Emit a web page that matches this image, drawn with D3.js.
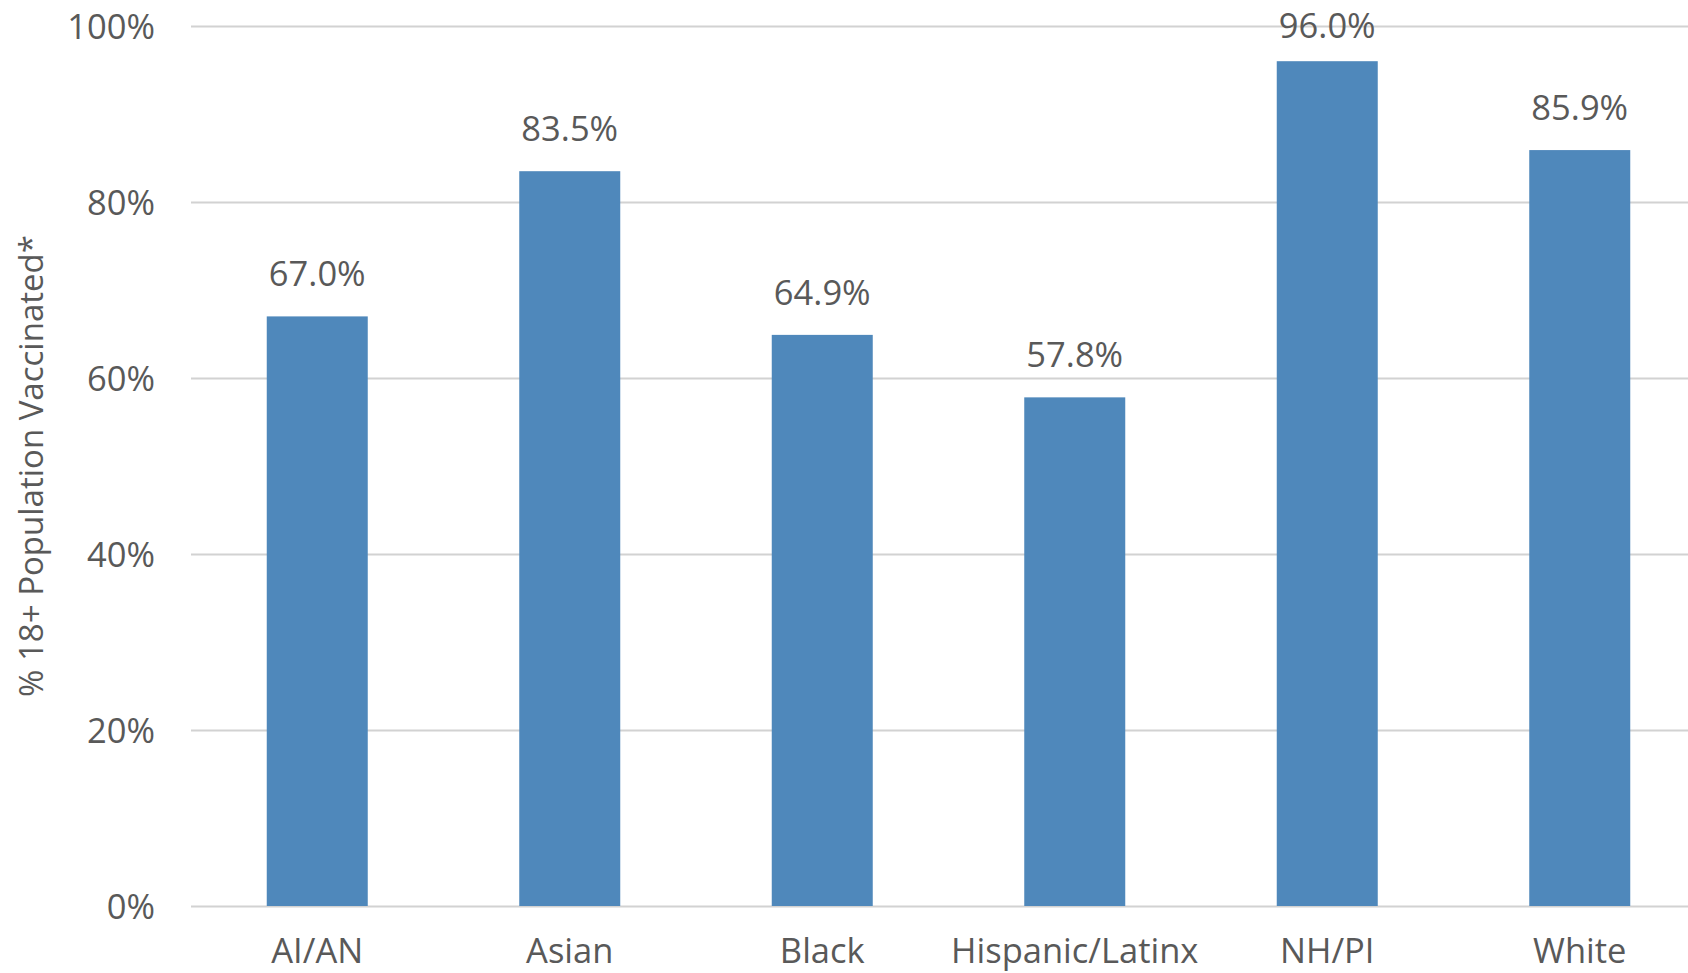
<!DOCTYPE html>
<meta charset="utf-8">
<style>
  body { margin: 0; background: #fff; }
  svg text {
    font-family: "Open Sans", sans-serif;
    font-size: 34.5px;
    fill: #595959;
  }
  .grid line {
    stroke: #d2d2d2;
    stroke-width: 2px;
  }
  .bar {
    fill: #4f88bb;
  }
</style>
<svg width="1688" height="973"></svg>
<script src="https://cdn.jsdelivr.net/npm/d3@7"></script>
<script>
  const categories = ["AI/AN", "Asian", "Black", "Hispanic/Latinx", "NH/PI", "White"];
  const values = [67.0, 83.5, 64.9, 57.8, 96.0, 85.9];
  const yTicks = [0, 20, 40, 60, 80, 100];
  const yTitle = "% 18+ Population Vaccinated*";

  // plot area; the right side runs past the edge of the picture
  const plotLeft = 191, plotRight = 1706, plotTop = 26, plotBottom = 906;

  const svg = d3.select("svg");

  const x = d3.scaleBand()
    .domain(categories)
    .range([plotLeft, plotRight])
    .paddingInner(0.6)
    .paddingOuter(0.3);

  const y = d3.scaleLinear()
    .domain([0, 100])
    .range([plotBottom, plotTop]);

  // gridlines + tick labels
  const yAxis = svg.append("g")
    .attr("class", "grid")
    .attr("transform", "translate(" + plotLeft + ",0)")
    .call(d3.axisLeft(y)
      .tickValues(yTicks)
      .tickSize(-(plotRight - plotLeft))
      .tickPadding(36)
      .tickFormat(d => d + "%"));
  yAxis.select(".domain").remove();
  yAxis.selectAll("text")
    .attr("fill", null)
    .attr("dy", "0.36em");

  // bars
  svg.selectAll(".bar")
    .data(values)
    .enter()
    .append("rect")
    .attr("class", "bar")
    .attr("x", (d, i) => x(categories[i]))
    .attr("width", x.bandwidth())
    .attr("y", d => y(d))
    .attr("height", d => y(0) - y(d));

  // value labels (kept inside the top of the chart like Excel does)
  svg.selectAll(".value")
    .data(values)
    .enter()
    .append("text")
    .attr("class", "value")
    .attr("text-anchor", "middle")
    .attr("x", (d, i) => x(categories[i]) + x.bandwidth() / 2)
    .attr("y", d => Math.max(y(d) - 30, 38))
    .text(d => d.toFixed(1) + "%");

  // category labels
  const xAxis = svg.append("g")
    .attr("transform", "translate(0," + plotBottom + ")")
    .call(d3.axisBottom(x).tickSize(0));
  xAxis.select(".domain").remove();
  xAxis.selectAll("text")
    .attr("fill", null)
    .attr("y", 57)
    .attr("dy", 0);

  // y title
  svg.append("text")
    .attr("transform", "translate(43," + (plotTop + plotBottom) / 2 + ") rotate(-90)")
    .attr("text-anchor", "middle")
    .style("font-size", "33px")
    .text(yTitle);
</script>
